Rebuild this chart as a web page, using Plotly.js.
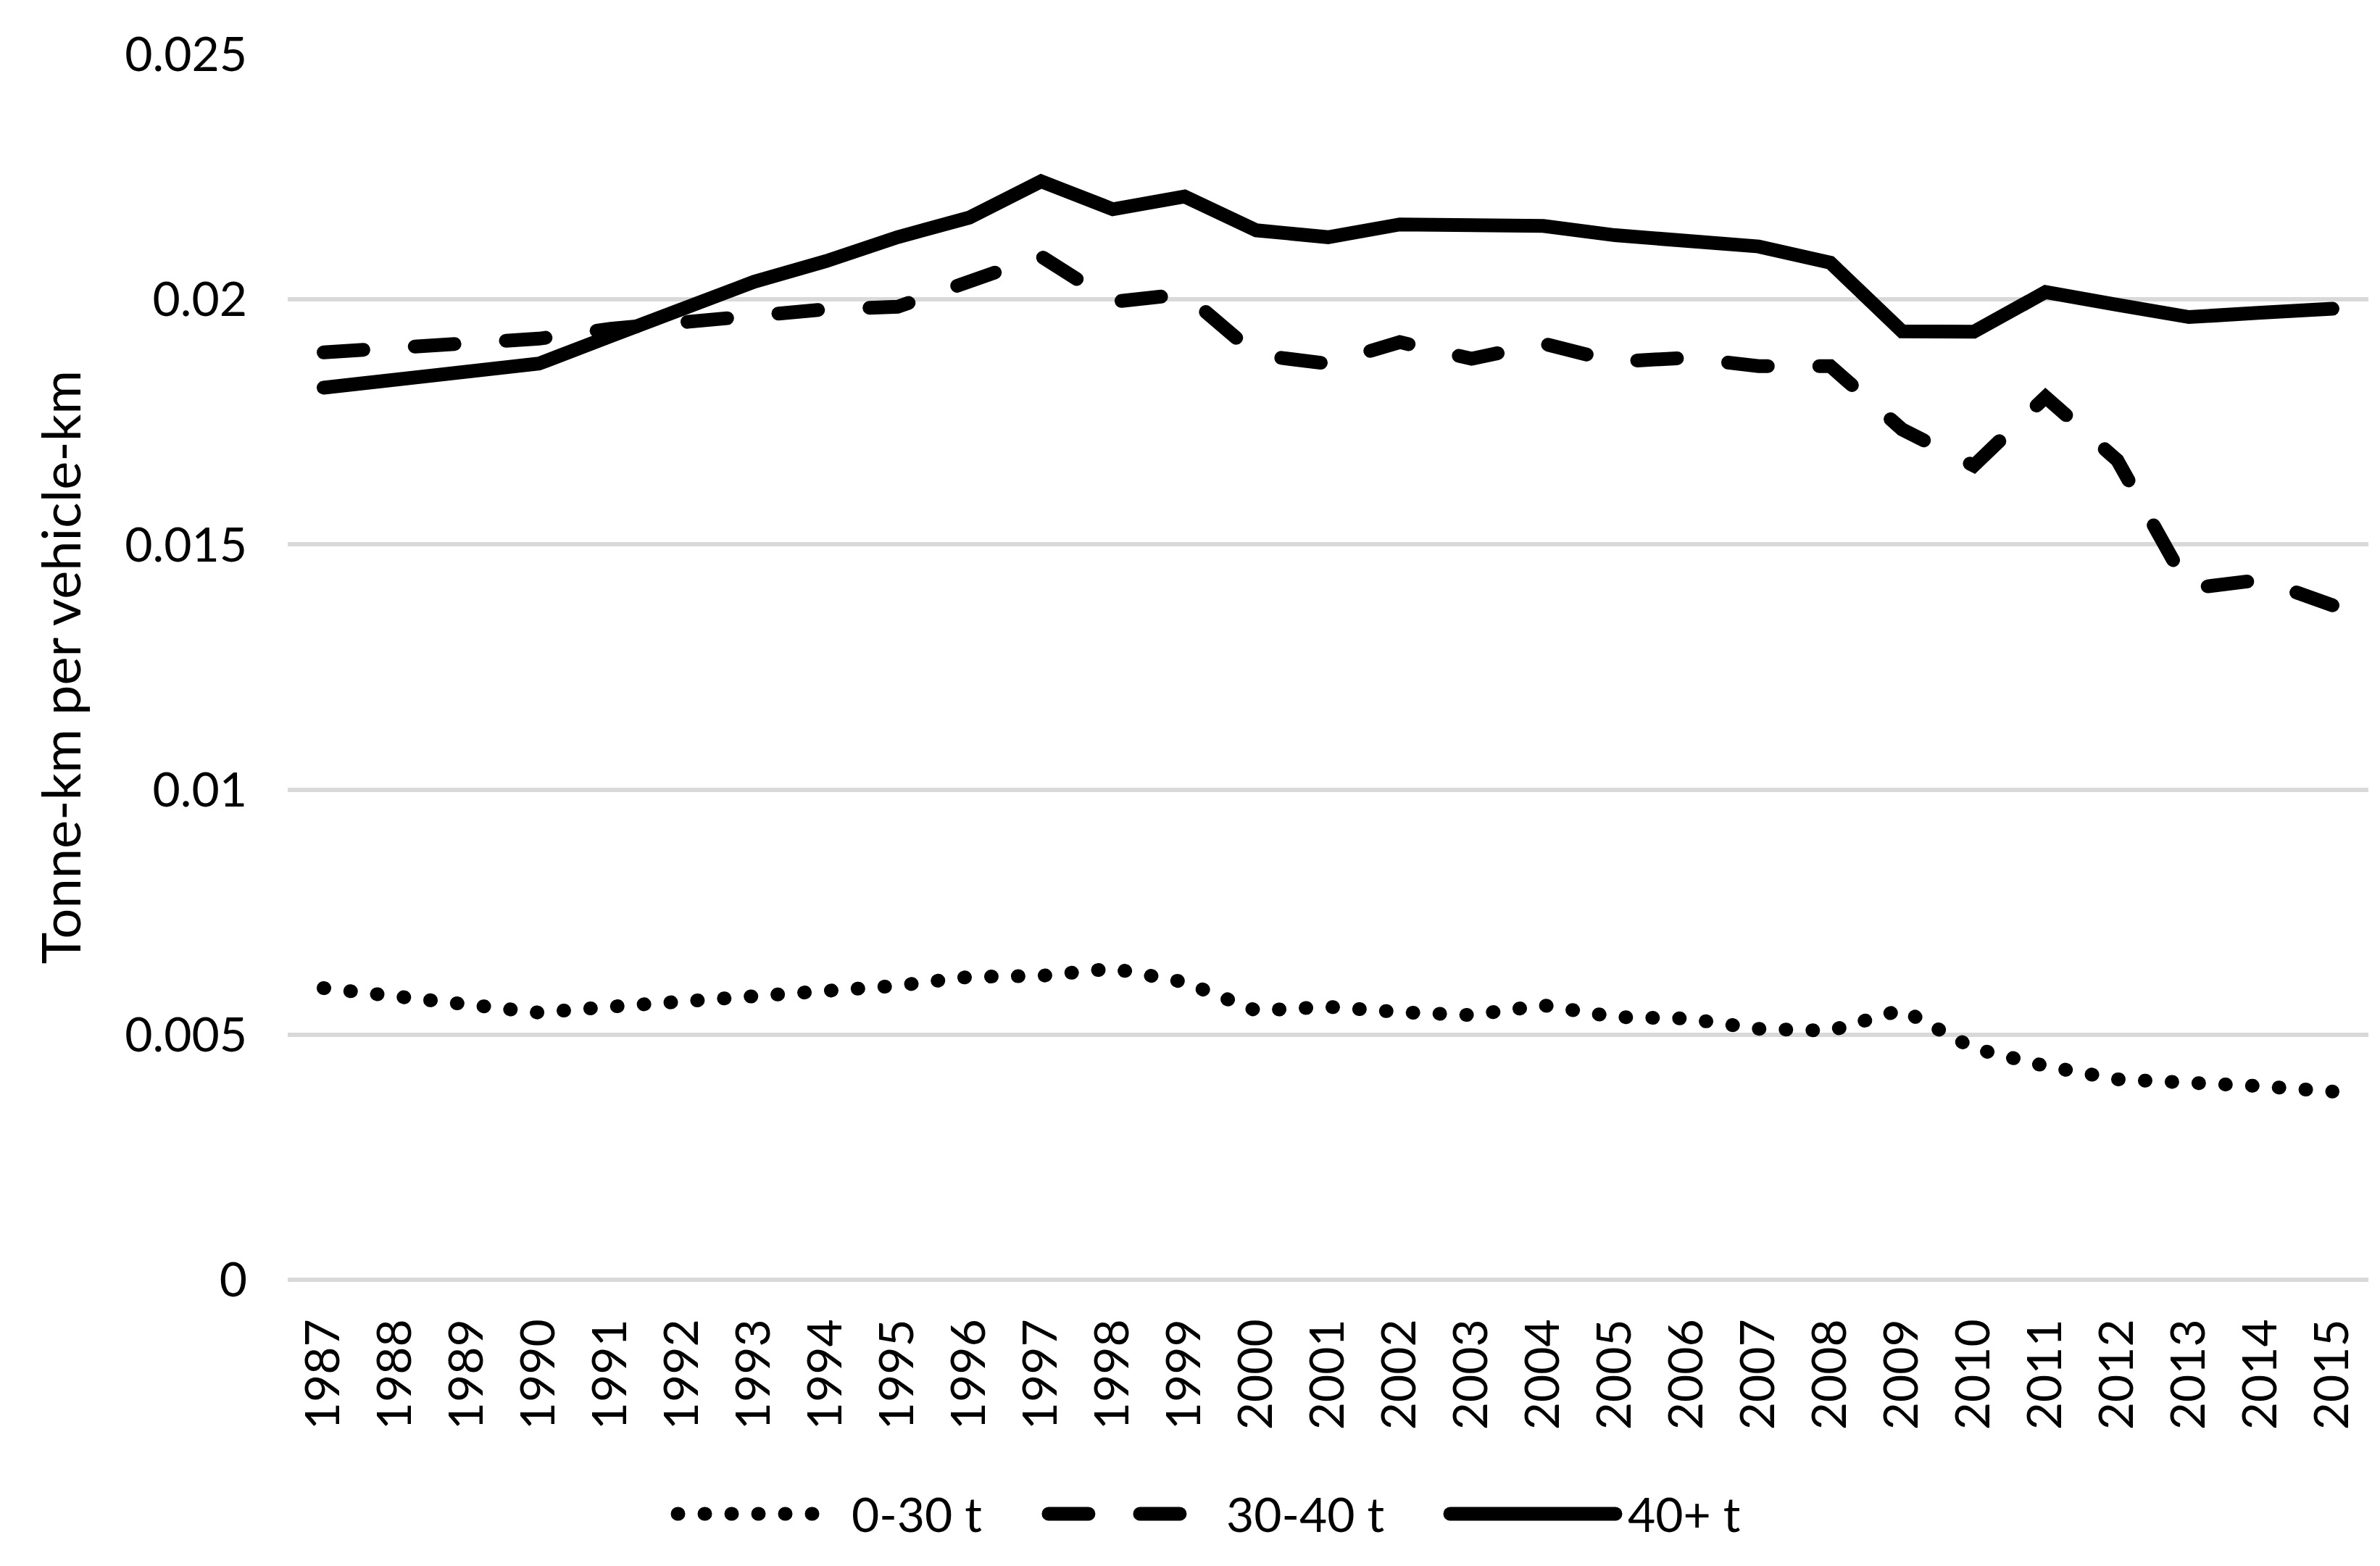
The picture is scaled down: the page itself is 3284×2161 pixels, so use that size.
<!DOCTYPE html>
<html>
<head>
<meta charset="utf-8">
<script src="https://cdn.plot.ly/plotly-3.0.1.min.js"></script>
<style>
  html, body { margin: 0; padding: 0; background: #fff; }
  .js-line, .shapelayer path { stroke-linecap: round; }
</style>
</head>
<body>
<div id="chart" style="width:3284px;height:2161px;"></div>
<script>
const years = ["1987","1988","1989","1990","1991","1992","1993","1994","1995","1996","1997","1998","1999","2000","2001","2002","2003","2004","2005","2006","2007","2008","2009","2010","2011","2012","2013","2014","2015"];

const seriesNames = ["0-30 t", "30-40 t", "40+ t"];

const light = [0.00595,0.00577,0.00561,0.00545,0.00557,0.00567,0.00584,0.00591,0.00600,0.00618,0.00620,0.00635,0.00607,0.00549,0.00557,0.00546,0.00540,0.00560,0.00536,0.00533,0.00512,0.00508,0.00551,0.00472,0.00436,0.00409,0.00405,0.00395,0.00384];

const medium = [0.01892,0.01900,0.01912,0.01920,0.01940,0.01955,0.01972,0.01980,0.01985,0.02035,0.02088,0.01995,0.02011,0.01887,0.01869,0.01913,0.01879,0.01910,0.01873,0.01881,0.01864,0.01864,0.01735,0.01661,0.01801,0.01672,0.01410,0.01428,0.01376];

const heavy = [0.01820,0.01836,0.01852,0.01869,0.01925,0.01983,0.02036,0.02078,0.02127,0.02167,0.02241,0.02184,0.02210,0.02141,0.02127,0.02153,0.02151,0.02150,0.02131,0.02121,0.02108,0.02075,0.01935,0.01934,0.02015,0.01989,0.01964,0.01973,0.01981];

const yTickVals = [0, 0.005, 0.01, 0.015, 0.02, 0.025];
const yTickText = ["0", "0.005", "0.01", "0.015", "0.02", "0.025"];

const dashStyles = ["1px,36px", "55px,71px", "solid"];
const seriesData = [light, medium, heavy];

const FONT = "Lato, 'Open Sans', sans-serif";
const FS = 66;

const traces = seriesData.map((vals, i) => ({
  type: "scatter",
  mode: "lines",
  x: years,
  y: vals,
  name: seriesNames[i],
  line: { color: "#000000", width: 19, dash: dashStyles[i] },
  showlegend: false,
  hoverinfo: "skip"
}));

// custom legend (layout decoration) built from the series names
const legendSample = [[0.1874, 0.2539, 0.2703], [0.3657, 0.4343, 0.4504], [0.5587, 0.6381, 0.6433]];
const legendY = -0.191;
const shapes = legendSample.map((p, i) => ({
  type: "line", xref: "paper", yref: "paper",
  x0: p[0], x1: p[1], y0: legendY, y1: legendY,
  line: { color: "#000000", width: 19, dash: dashStyles[i] }
}));
const annotations = legendSample.map((p, i) => ({
  xref: "paper", yref: "paper", x: p[2], y: legendY,
  xanchor: "left", yanchor: "middle", showarrow: false,
  text: seriesNames[i], font: { family: FONT, size: FS, color: "#000" }
}));

const layout = {
  width: 3284,
  height: 2161,
  paper_bgcolor: "#ffffff",
  plot_bgcolor: "#ffffff",
  margin: { l: 397, r: 16, t: 75, b: 395, pad: 0 },
  font: { family: FONT, size: FS, color: "#000000" },
  showlegend: false,
  xaxis: {
    type: "category",
    range: [-0.5, years.length - 0.5],
    tickangle: -90,
    showgrid: false,
    zeroline: false,
    showline: false,
    ticks: "",
    ticklabelstandoff: 40,
    tickfont: { family: FONT, size: FS, color: "#000" }
  },
  yaxis: {
    range: [0, 0.025],
    tickvals: yTickVals,
    ticktext: yTickText,
    showgrid: true,
    gridcolor: "#d9d9d9",
    gridwidth: 6,
    zeroline: true,
    zerolinecolor: "#d9d9d9",
    zerolinewidth: 6,
    showline: false,
    ticks: "",
    ticklabelstandoff: 55,
    tickfont: { family: FONT, size: FS, color: "#000" },
    title: { text: "Tonne-km per vehicle-km", font: { family: FONT, size: 74, color: "#000" }, standoff: 36 }
  },
  shapes: shapes,
  annotations: annotations
};

Plotly.newPlot("chart", traces, layout, { staticPlot: true, displayModeBar: false });
</script>
</body>
</html>
